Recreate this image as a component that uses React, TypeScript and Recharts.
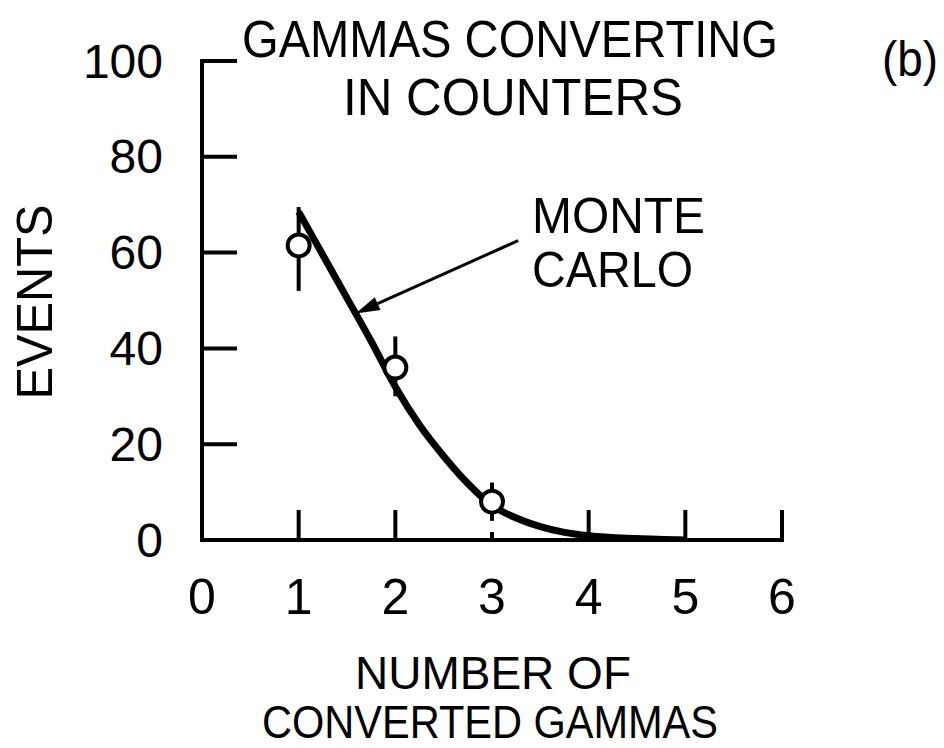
import React from 'react';
import {
  ComposedChart,
  Line,
  Scatter,
  ErrorBar,
  XAxis,
  YAxis,
  ReferenceLine,
} from 'recharts';

// Monte Carlo curve
const curveX = [1, 1.25, 1.5, 1.75, 2, 2.25, 2.5, 2.75, 3, 3.25, 3.5, 3.75, 4, 4.5, 5];
const curveY = [68.5, 59.5, 50.5, 41.5, 32, 24, 17.5, 11.8, 7.2, 4.6, 2.8, 1.6, 0.9, 0.3, 0];

// measured points with vertical error bars
const pointX = [1, 2, 3];
const pointY = [61.5, 36, 8];
const errLow = [9.5, 6, 4];
const errHigh = [8, 6.5, 4];

const xTicks = [0, 1, 2, 3, 4, 5, 6];
const yTicks = [0, 20, 40, 60, 80, 100];

// annotation arrow, in data units
const arrowFrom = { x: 3.27, y: 62.5 };
const arrowTo = { x: 1.59, y: 47.3 };

const curve = curveX.map((x, i) => ({ x, y: curveY[i] }));
const points = pointX.map((x, i) => ({ x, y: pointY[i], err: [errLow[i], errHigh[i]] }));

const FONT = '"Liberation Sans", Arial, sans-serif';

const YTick = (props: any) => {
  const { x, y, payload } = props;
  const ax = x + 39;
  return (
    <g>
      {payload.value !== 0 && (
        <line x1={ax} x2={ax + 35} y1={y} y2={y} stroke="#000" strokeWidth={4} />
      )}
      <text
        x={x}
        y={y}
        textAnchor="end"
        dominantBaseline="central"
        fontSize={48}
        fontFamily={FONT}
        fill="#000"
      >
        {payload.value}
      </text>
    </g>
  );
};

const XTick = (props: any) => {
  const { x, y, payload } = props;
  const len = payload.value === 3 ? 8 : 30;
  return (
    <g>
      {payload.value !== 0 && (
        <line x1={x} x2={x} y1={y} y2={y - len} stroke="#000" strokeWidth={4} />
      )}
      <text
        x={x}
        y={y + 57}
        textAnchor="middle"
        dominantBaseline="central"
        fontSize={50}
        fontFamily={FONT}
        fill="#000"
      >
        {payload.value}
      </text>
    </g>
  );
};

const Ring = (p: any) => (
  <circle cx={p.cx} cy={p.cy} r={11} fill="#fff" stroke="#000" strokeWidth={4} />
);

const Arrow = (p: any) => {
  const { x1, y1, x2, y2 } = p;
  const a = Math.atan2(y2 - y1, x2 - x1);
  const L = 24;
  const W = 7;
  const bx = x2 - L * Math.cos(a);
  const by = y2 - L * Math.sin(a);
  const nx = -Math.sin(a) * W;
  const ny = Math.cos(a) * W;
  return (
    <g>
      <line x1={x1} y1={y1} x2={bx} y2={by} stroke="#000" strokeWidth={3} />
      <polygon
        points={`${x2},${y2} ${bx + nx},${by + ny} ${bx - nx},${by - ny}`}
        fill="#000"
      />
    </g>
  );
};

const label = (txt: string, x: number, y: number, len: number, size = 48) => (
  <text
    x={x}
    y={y}
    fontSize={size}
    fontFamily={FONT}
    fill="#000"
    textLength={len}
    lengthAdjust="spacingAndGlyphs"
  >
    {txt}
  </text>
);

export default function App() {
  return (
    <div style={{ position: 'absolute', left: 0, top: 0, width: 944, height: 748, background: '#fff' }}>
      <ComposedChart
        width={944}
        height={748}
        margin={{ top: 61, right: 162, bottom: 0, left: 0 }}
      >
        <XAxis
          dataKey="x"
          type="number"
          domain={[0, 6]}
          ticks={xTicks}
          height={208}
          tickSize={0}
          tickMargin={0}
          tickLine={false}
          tick={<XTick />}
          axisLine={{ stroke: '#000', strokeWidth: 4, strokeLinecap: 'square' }}
          allowDataOverflow
        />
        <YAxis
          type="number"
          domain={[0, 100]}
          ticks={yTicks}
          width={202}
          tickSize={0}
          tickMargin={39}
          tickLine={false}
          tick={<YTick />}
          axisLine={{ stroke: '#000', strokeWidth: 4, strokeLinecap: 'square' }}
          allowDataOverflow
        />
        <ReferenceLine
          segment={[arrowFrom, arrowTo]}
          stroke="#000"
          shape={(p: any) => <Arrow {...p} />}
        />
        <Line
          data={curve}
          dataKey="y"
          type="monotone"
          stroke="#000"
          strokeWidth={7}
          dot={false}
          activeDot={false}
          isAnimationActive={false}
        />
        <Scatter data={points} dataKey="y" shape={<Ring />} isAnimationActive={false}>
          <ErrorBar dataKey="err" direction="y" width={0} stroke="#000" strokeWidth={4} />
        </Scatter>
      </ComposedChart>
      <svg
        width={944}
        height={748}
        style={{ position: 'absolute', left: 0, top: 0, pointerEvents: 'none' }}
      >
        {label('GAMMAS CONVERTING', 242, 57, 536, 52)}
        {label('IN COUNTERS', 343, 115, 340, 52)}
        {label('(b)', 882, 76, 56, 50)}
        {label('MONTE', 532, 233, 173, 50)}
        {label('CARLO', 532, 287, 161, 50)}
        {label('NUMBER OF', 355, 689, 276, 47)}
        {label('CONVERTED GAMMAS', 262, 738, 456, 47)}
        <text
          transform="translate(52, 302) rotate(-90)"
          textAnchor="middle"
          fontSize={50}
          fontFamily={FONT}
          fill="#000"
          textLength={195}
          lengthAdjust="spacingAndGlyphs"
        >
          EVENTS
        </text>
      </svg>
    </div>
  );
}
